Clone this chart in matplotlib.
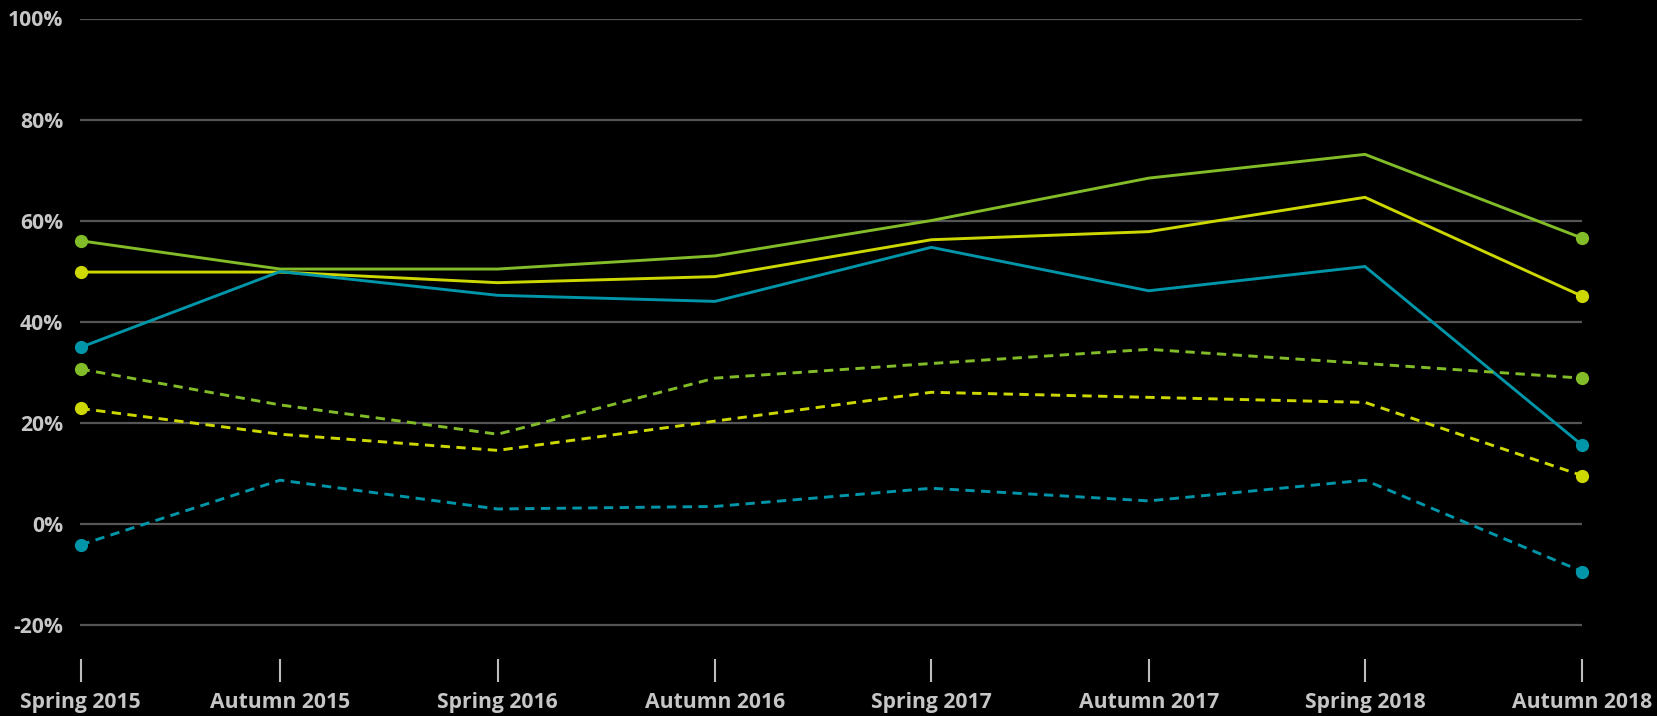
import matplotlib
matplotlib.use("Agg")
import matplotlib.pyplot as plt
import numpy as np
import pandas as pd

# ---- data ----
period_labels = ["Spring 2015", "Autumn 2015", "Spring 2016", "Autumn 2016",
                 "Spring 2017", "Autumn 2017", "Spring 2018", "Autumn 2018"]
period_dates = ["2015-04-16", "2015-10-01", "2016-04-01", "2016-10-01",
                "2017-04-01", "2017-10-01", "2018-04-01", "2018-10-01"]

green_solid = [56.0, 50.4, 50.4, 53.0, 60.0, 68.4, 73.1, 56.5]
yellow_solid = [49.8, 49.8, 47.7, 48.9, 56.2, 57.8, 64.6, 45.0]
teal_solid = [34.9, 49.9, 45.2, 44.0, 54.7, 46.1, 50.9, 15.5]
green_dashed = [30.6, 23.5, 17.7, 28.8, 31.7, 34.5, 31.7, 28.8]
yellow_dashed = [22.8, 17.7, 14.5, 20.3, 26.0, 25.0, 24.0, 9.5]
teal_dashed = [-4.2, 8.6, 2.9, 3.4, 7.0, 4.5, 8.6, -9.5]

y_ticks = [-20, 0, 20, 40, 60, 80, 100]

GREEN = "#82bc28"
YELLOW = "#cdd800"
TEAL = "#0095a8"
GRID = "#555555"
TEXT = "#c6c6c6"

plt.rcParams['font.family'] = ['Open Sans', 'DejaVu Sans']

x = pd.to_datetime(period_dates)

fig = plt.figure(figsize=(16.58, 7.16), dpi=100, facecolor="black")
ax = fig.add_axes([80.5 / 1658, 1 - 659 / 716, (1582.4 - 80.5) / 1658, (659 - 18.5) / 716])
ax.set_facecolor("black")

series = [
    (green_solid, GREEN, "-"),
    (yellow_solid, YELLOW, "-"),
    (teal_solid, TEAL, "-"),
    (green_dashed, GREEN, (0, (3.2, 2.2))),
    (yellow_dashed, YELLOW, (0, (3.2, 2.2))),
    (teal_dashed, TEAL, (0, (3.2, 2.2))),
]
for vals, col, ls in series:
    ax.plot(x, vals, color=col, linestyle=ls, linewidth=2.1,
            marker="o", markersize=8.5, markevery=[0, len(vals) - 1],
            clip_on=False, zorder=3, solid_joinstyle="miter")

ax.set_xlim(x[0], x[-1])
ax.set_ylim(-26.8, 100)

ax.set_yticks(y_ticks)
ax.set_yticklabels([f"{v}%" for v in y_ticks])
ax.grid(axis="y", color=GRID, linewidth=1.6, zorder=1)
ax.grid(axis="x", visible=False)

ax.set_xticks(x)
ax.set_xticklabels(period_labels)

for s in ax.spines.values():
    s.set_visible(False)

ax.tick_params(axis="y", length=0, pad=12.5, labelcolor=TEXT, labelsize=15.2)
ax.tick_params(axis="x", length=16.5, width=1.5, color="#bdbdbd", direction="out",
               pad=7.0, labelcolor=TEXT, labelsize=15.2)
for lab in ax.get_xticklabels() + ax.get_yticklabels():
    lab.set_fontweight("bold")

fig.savefig("out.png", dpi=100, facecolor="black")
